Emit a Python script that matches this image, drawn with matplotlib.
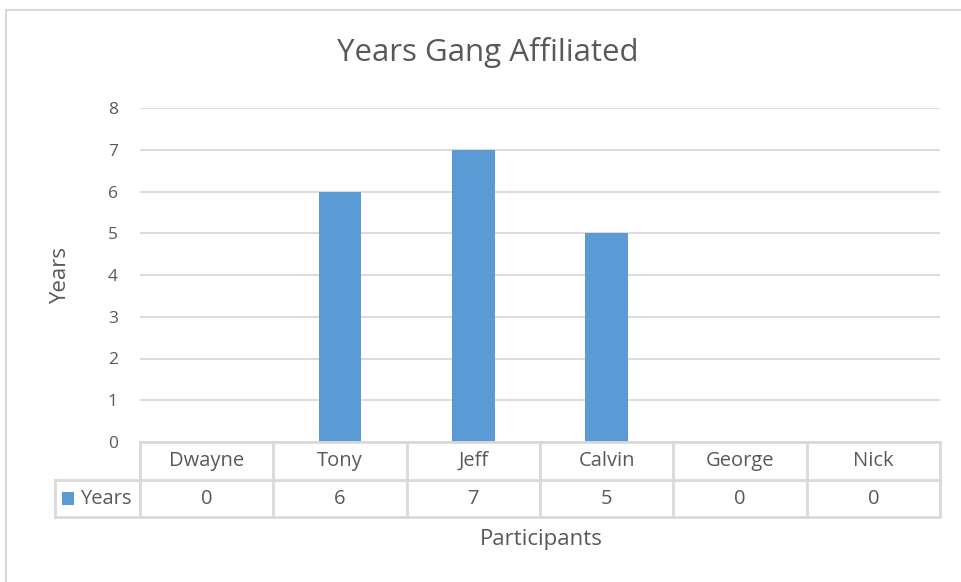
import matplotlib
matplotlib.use('Agg')
import matplotlib.pyplot as plt
import matplotlib.transforms as mtransforms
from matplotlib.patches import Rectangle

# chart data
participants = ['Dwayne', 'Tony', 'Jeff', 'Calvin', 'George', 'Nick']
years = [0, 6, 7, 5, 0, 0]
series_name = 'Years'
y_ticks = [0, 1, 2, 3, 4, 5, 6, 7, 8]

BAR_COLOR = '#5B9BD5'
TEXT_COLOR = '#595959'
GRID_COLOR = '#D9D9D9'

plt.rcParams['font.family'] = ['Open Sans', 'DejaVu Sans']

W, H = 961, 582
fig = plt.figure(figsize=(W / 100, H / 100), dpi=100)

# outer chart border (only left and top edges fall inside the image)
fig.add_artist(Rectangle((6 / W, -0.5), 2.0, 1.5 - 10 / H, transform=fig.transFigure,
                         fill=False, edgecolor=GRID_COLOR, linewidth=1.5))

ax = fig.add_axes([140 / W, (H - 442) / H, 800 / W, 334 / H])

x = list(range(len(participants)))
ax.bar(x, years, width=0.32, color=BAR_COLOR, zorder=3)

ax.set_xlim(-0.5, len(participants) - 0.5)
ax.set_ylim(0, 8)
ax.set_yticks(y_ticks)
ax.set_xticks([])
ax.tick_params(axis='y', length=0, pad=16, labelsize=12.5, labelcolor=TEXT_COLOR)
ax.grid(axis='y', color=GRID_COLOR, linewidth=1.3, zorder=0)
for s in ax.spines.values():
    s.set_visible(False)

ax.set_ylabel('Years', fontsize=16, color=TEXT_COLOR)
ax.yaxis.set_label_coords(-0.086, 0.5)
fig.text(488 / W, 1 - 53 / H, 'Years Gang Affiliated', ha='center', va='center',
         fontsize=22.5, color=TEXT_COLOR)

# data table under the axis
trans = mtransforms.blended_transform_factory(ax.transData, ax.transAxes)
row_h = 38 / 334
r1 = -row_h
r2 = -2 * row_h + 1 / 334
legend_left = -0.5 - 85 / (800 / 6)
n = len(participants)
kw = dict(color=GRID_COLOR, linewidth=2, transform=trans, clip_on=False, zorder=4)

ax.plot([-0.5, n - 0.5], [0, 0], **kw)
ax.plot([legend_left, n - 0.5], [r1, r1], **kw)
ax.plot([legend_left, n - 0.5], [r2, r2], **kw)
ax.plot([legend_left, legend_left], [r1, r2], **kw)
for i in range(n + 1):
    ax.plot([i - 0.5, i - 0.5], [0, r2], **kw)

for i, (name, val) in enumerate(zip(participants, years)):
    ax.text(i, r1 / 2, name, ha='center', va='center', fontsize=14.5,
            color=TEXT_COLOR, transform=trans)
    ax.text(i, (r1 + r2) / 2, str(val), ha='center', va='center', fontsize=14.5,
            color=TEXT_COLOR, transform=trans)

# legend key inside the table
key_w = 12 / (800 / 6)
key_h = 13 / 334
ax.add_patch(Rectangle((legend_left + 7 / (800 / 6), (r1 + r2) / 2 - key_h / 2),
                       key_w, key_h, facecolor=BAR_COLOR, edgecolor='none',
                       transform=trans, clip_on=False))
ax.text(legend_left + 25 / (800 / 6), (r1 + r2) / 2, series_name, ha='left',
        va='center', fontsize=14.5, color=TEXT_COLOR, transform=trans)

fig.text(541 / W, 1 - 540 / H, 'Participants', ha='center', va='center',
         fontsize=16, color=TEXT_COLOR)

fig.savefig('out.png', dpi=100, facecolor='white')
